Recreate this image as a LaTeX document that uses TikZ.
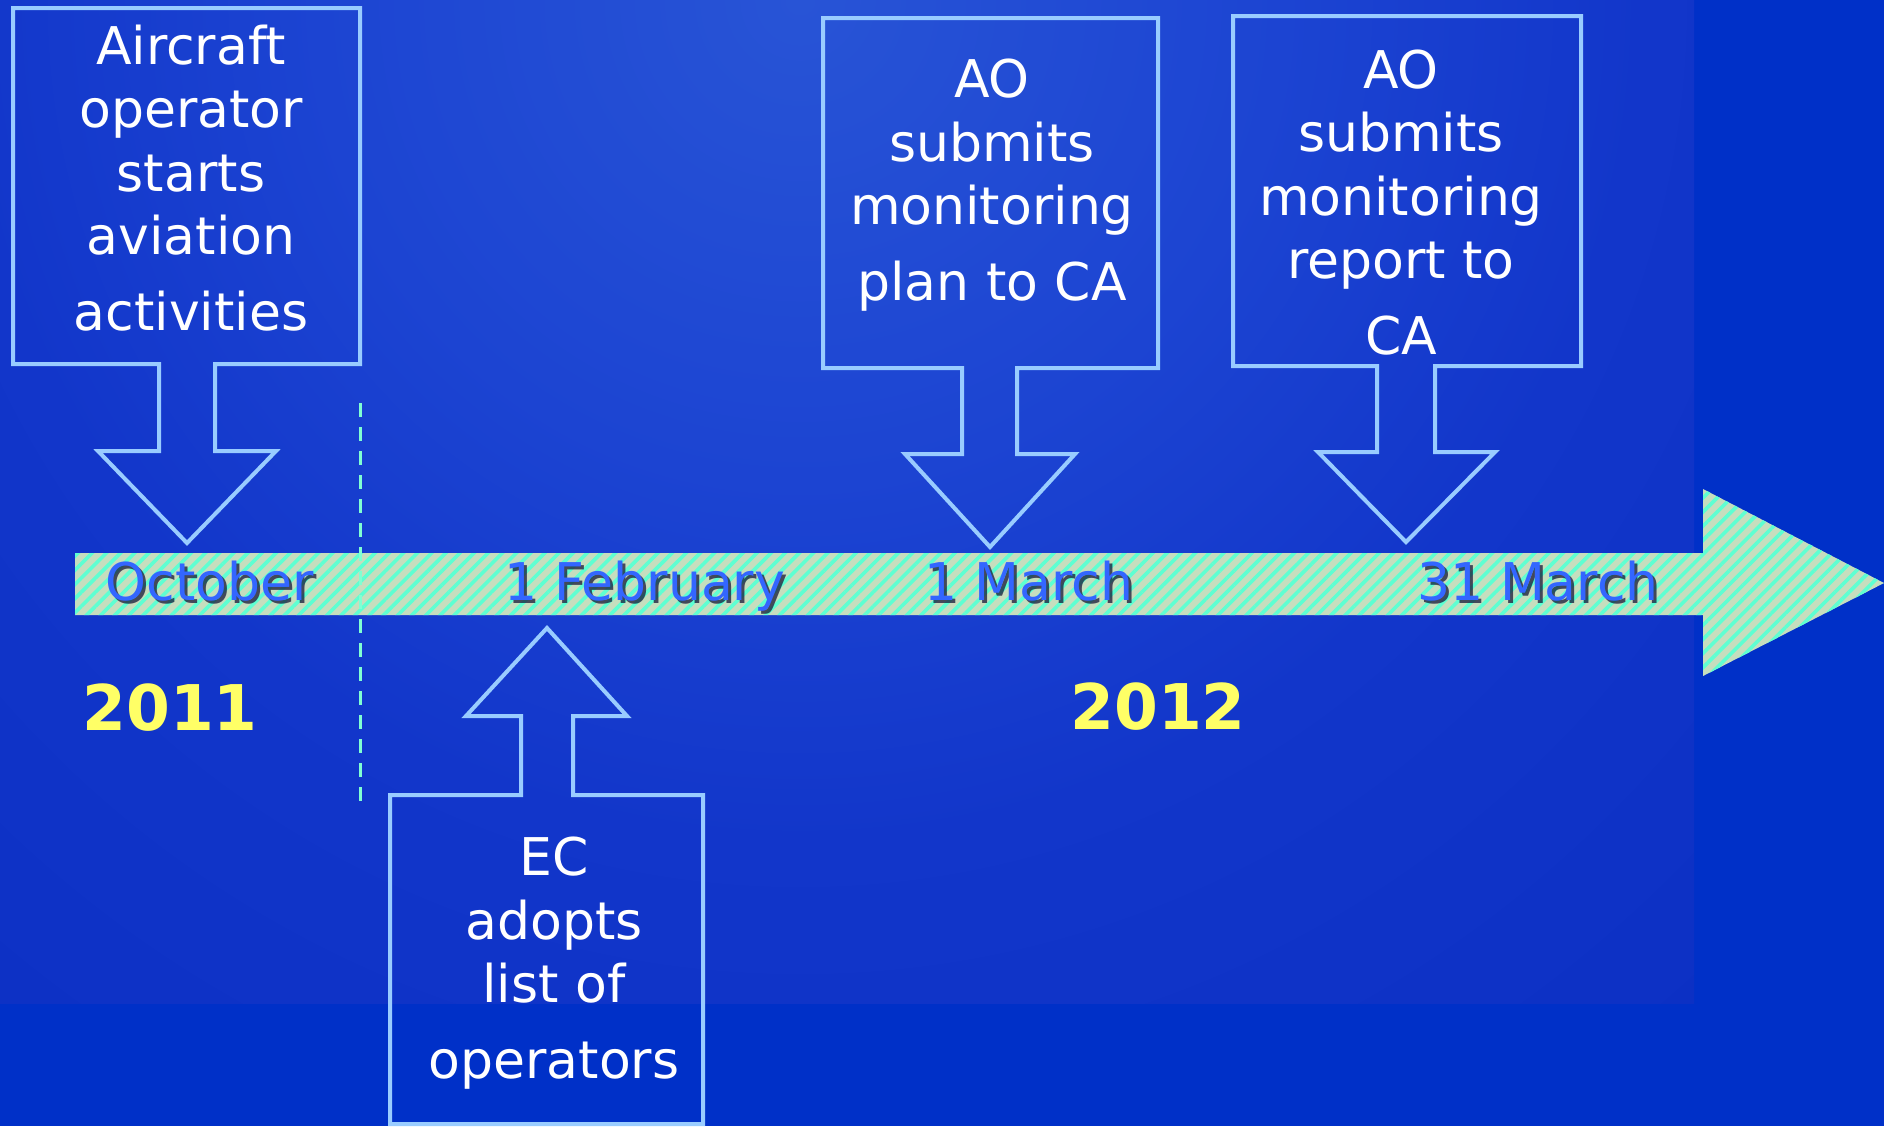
\documentclass[tikz,border=0pt]{standalone}
\usepackage{fontspec}
\setmainfont{DejaVu Sans}
\usetikzlibrary{patterns.meta}
\definecolor{bgout}{RGB}{0,48,200}
\definecolor{bgin}{RGB}{40,84,214}
\definecolor{bgmid}{RGB}{28,68,210}
\definecolor{bglow}{RGB}{18,54,202}
\definecolor{bgedge}{RGB}{12,48,196}
\definecolor{outline}{RGB}{153,204,255}
\definecolor{shaftbase}{RGB}{198,222,190}
\definecolor{stripe}{RGB}{94,255,210}
\definecolor{datecol}{RGB}{51,102,255}
\definecolor{shadowcol}{RGB}{24,24,56}
\definecolor{yearcol}{RGB}{255,255,102}
\definecolor{dashcol}{RGB}{128,255,210}
\pgfdeclareradialshading{bgshade}{\pgfpoint{0bp}{0bp}}{color(0bp)=(bgin); color(240bp)=(bgmid); color(420bp)=(bglow); color(680bp)=(bgedge); color(720bp)=(bgedge)}
\tikzset{
  callout/.style={draw=outline, line width=2pt, line join=miter},
  boxtext/.style={text=white, align=center, font=\fontsize{26}{31.8}\selectfont, inner sep=0pt, anchor=base},
  datetext/.style={font=\fontsize{26}{31}\selectfont, text=datecol, inner sep=0pt, anchor=base},
  dateshadow/.style={datetext, text=shadowcol, opacity=0.75},
  yeartext/.style={font=\fontsize{31.5}{36}\selectfont\bfseries, text=yearcol, inner sep=0pt, anchor=base},
}
\begin{document}
\begin{tikzpicture}[x=0.5pt, y=-0.5pt]
\useasboundingbox (0,0) rectangle (1884,1126);
% background
\fill[bgout] (0,0) rectangle (1884,1126);
\begin{scope}
  \clip (0,0) rectangle (1694,1003);
  \node[inner sep=0pt, outer sep=0pt] (bgglow) at (800,0) {\pgfuseshading{bgshade}};
\end{scope}
% timeline arrow
\path[preaction={fill=shaftbase}, pattern={Lines[angle=45,distance=5pt,line width=1.8pt]}, pattern color=stripe]
  (75,553) -- (1703,553) -- (1703,489) -- (1884,583) -- (1703,676) -- (1703,615) -- (75,615) -- cycle;
% dashed divider
\coordinate (dtop) at (360,403);
\coordinate (dbot) at (360,805);
\draw[dashcol, line width=1.5pt, dash pattern=on 7pt off 5pt] (dtop) -- (dbot);
% callouts
\draw[callout] (13,8) -- (360,8) -- (360,364) -- (215,364) -- (215,451) -- (276,451) -- (187,543) -- (98,451) -- (159,451) -- (159,364) -- (13,364) -- cycle;
\draw[callout] (823,18) -- (1158,18) -- (1158,368) -- (1017,368) -- (1017,454) -- (1075,454) -- (990,547) -- (905,454) -- (962,454) -- (962,368) -- (823,368) -- cycle;
\draw[callout] (1233,16) -- (1581,16) -- (1581,366) -- (1435,366) -- (1435,452) -- (1495,452) -- (1406,542) -- (1318,452) -- (1377,452) -- (1377,366) -- (1233,366) -- cycle;
\draw[callout] (390,1124) -- (390,795) -- (521,795) -- (521,716) -- (466,716) -- (547,628) -- (627,716) -- (573,716) -- (573,795) -- (703,795) -- (703,1124) -- cycle;
% callout texts
\node[boxtext] (t1) at (191,330) {Aircraft\\operator\\starts\\aviation\\[5.8pt]activities};
\node[boxtext] (t2) at (992,300) {AO\\submits\\monitoring\\[5.8pt]plan to CA};
\node[boxtext] (t3) at (1401,354) {AO\\submits\\monitoring\\report to\\[5.8pt]CA};
\node[boxtext] (t4) at (554,1078) {EC\\adopts\\list of\\[5.8pt]operators};
% dates
\node[dateshadow] (octs) at (213,603) {October};
\node[datetext] (oct) at (210,600) {October};
\node[dateshadow] (febs) at (648,603) {1 February};
\node[datetext] (feb) at (645,600) {1 February};
\node[dateshadow] (mar1s) at (1032,603) {1 March};
\node[datetext] (mar1) at (1029,600) {1 March};
\node[dateshadow] (mar31s) at (1541,603) {31 March};
\node[datetext] (mar31) at (1538,600) {31 March};
% years
\node[yeartext] (y2011) at (170,730) {2011};
\node[yeartext] (y2012) at (1158,729) {2012};
\end{tikzpicture}
\end{document}
